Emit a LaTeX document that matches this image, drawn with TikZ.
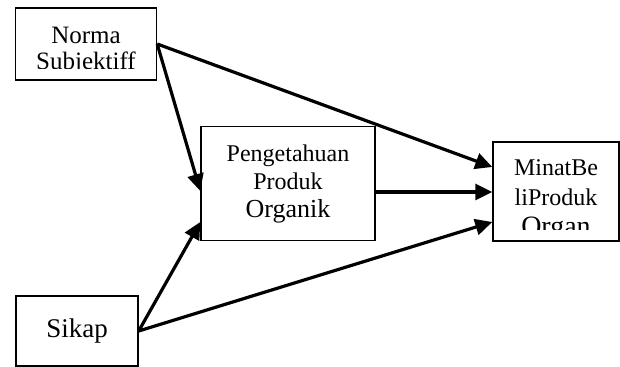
\documentclass[tikz,border=0pt]{standalone}
\usepackage{fontspec}
\setmainfont{Liberation Serif}
\usetikzlibrary{arrows.meta}
\tikzset{
  varbox/.style={draw, line width=0.7pt, inner sep=0pt},
  varlbl/.style={align=center, inner sep=0pt, font=\fontsize{12}{14}\selectfont},
  link/.style={line width=1.6pt, -{Triangle[length=8.5pt,width=8pt]}}
}
\begin{document}
\begin{tikzpicture}[x=0.5pt,y=-0.5pt]
  \useasboundingbox (0,0) rectangle (620,367);
  \node[varbox, minimum width=70.5pt, minimum height=36pt] (norma) at (86,44) {};
  \node[varbox, varlbl, minimum width=87pt, minimum height=57pt] (penget) at (288,183.5)
    {Pengetahuan\\Produk\\{\fontsize{13}{14}\selectfont Organik}};
  \node[varbox, minimum width=63pt, minimum height=49.5pt] (minat) at (556,191.5) {};
  \node[varbox, minimum width=61pt, minimum height=35pt, font=\fontsize{13.5}{16}\selectfont] (sikap) at (77,331) {Sikap};
  \begin{scope}
    \clip (16,8) rectangle (156,69);
    \node[varlbl, anchor=north, font=\fontsize{12.5}{13}\selectfont] (normatxt) at (86,27) {Norma\\Subjektiff};
  \end{scope}
  \begin{scope}
    \clip (493,142) rectangle (619,230);
    \node[varlbl, anchor=north, font=\fontsize{12}{15}\selectfont] (minattxt) at (556,159)
      {MinatBe\\liProduk\\{\fontsize{14}{15}\selectfont Organ}};
  \end{scope}
  \draw[link] (norma.east) -- ([yshift=12.25pt]minat.west);
  \draw[link] (norma.east) -- ([yshift=-3.75pt]penget.west);
  \draw[link] ([yshift=-4.25pt]penget.east) -- ([yshift=-0.25pt]minat.west);
  \draw[link] (sikap.east) -- ([yshift=-19.25pt]penget.west);
  \draw[link] (sikap.east) -- ([yshift=-15.25pt]minat.west);
\end{tikzpicture}
\end{document}
